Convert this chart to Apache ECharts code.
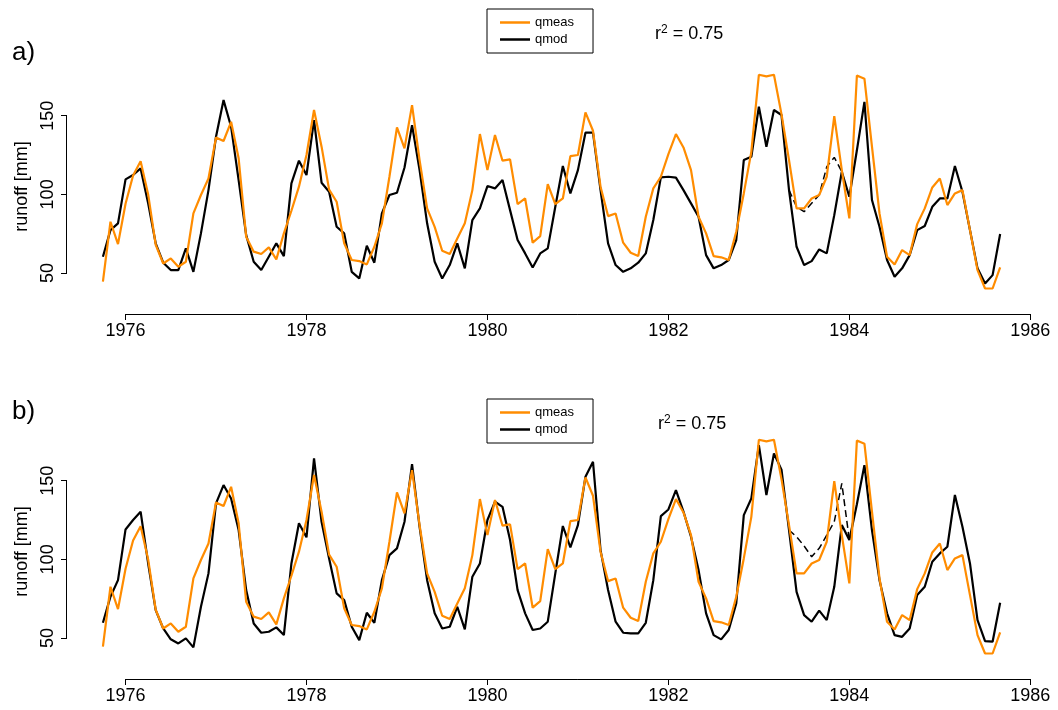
<!DOCTYPE html>
<html>
<head>
<meta charset="utf-8">
<script src="https://cdn.jsdelivr.net/npm/echarts@6/dist/echarts.min.js"></script>
<style>
  html, body { margin: 0; padding: 0; background: #fff; }
  #main { width: 1058px; height: 710px; }
</style>
</head>
<body>
<div id="main"></div>
<script>
// monthly values, Oct 1975 .. Sep 1985
const qmeas = [
  44.5, 82.6, 68.4, 94, 112, 121, 100, 68, 56.1, 59.3, 54, 57.2,
  87.9, 99.6, 110.1, 136.2, 133.9, 146.1, 122.9, 73.1, 63.6, 62.1, 66.3, 58.7,
  75.2, 89.6, 104.9, 125, 153.6, 130.3, 103, 95.3, 68.9, 58.3, 57.6, 55.5,
  66.7, 81.6, 111.2, 142.5, 129.2, 156.7, 121.8, 91.1, 79.4, 64.2, 62.1, 72,
  81.6, 102.7, 138.3, 115.4, 137.7, 121.4, 122.2, 93.8, 97.4, 69.3, 73.5, 106.5,
  93.8, 97.4, 124.3, 125, 152.1, 140.4, 104.9, 86.2, 87.9, 69.3, 62.9, 60.8,
  85.8, 103.8, 111.2, 125.6, 138.3, 129.8, 115.4, 85.8, 75.2, 60.8, 60, 58.3,
  76.3, 100.6, 127, 176, 175, 176, 151, 121.8, 91.1, 91.1, 97.4, 99.6,
  111.2, 149.7, 115.4, 84.7, 175.5, 173.5, 130.3, 87.9, 60.4, 55.5, 64.6, 61.4,
  81.1, 91.1, 104.4, 110.1, 93.2, 100.6, 102.7, 77.3, 51.9, 40.2, 40.2, 53.6
];
// model a)
const qmodA = [
  60.4, 77.3, 81.6, 109.5, 112.3, 116.5, 94.3, 68.9, 56.6, 51.9, 51.9, 65.7,
  50.8, 75.2, 102.7, 136.6, 159.9, 143, 109.1, 74.1, 57.2, 51.9, 60.4, 68.9,
  60.8, 107, 121.4, 112.3, 147.2, 107.4, 101.7, 79.4, 75.2, 50.8, 46.6, 67.4,
  56.6, 87.9, 99.6, 101, 117.1, 144, 115.4, 81.6, 57.2, 46.6, 55.1, 68.9,
  53, 83.7, 91.1, 105.3, 103.8, 109.1, 90, 71, 62.5, 53.6, 62.5, 65.7,
  92.1, 118, 100.6, 115.4, 139.2, 139.2, 102.7, 68.9, 55.1, 50.8, 53, 56.6,
  62.5, 83.7, 110.8, 111.2, 110.6, 102.7, 94.3, 85.8, 61.4, 53, 55.1, 58.3,
  71, 121.8, 123.9, 155.7, 130.3, 153.6, 150.4, 102.7, 66.7, 55.1, 57.6, 65,
  62.5, 86.8, 114.4, 98.5, 128, 158.8, 96.4, 79.4, 58.3, 47.7, 53, 61.4,
  77.3, 79.9, 92.1, 97.4, 97.4, 118, 101.7, 77.3, 53, 43.4, 48.7, 74.8
];
// dashed alternative a), months 91..98
const qmodAltA = [102.7, 92.1, 89, 94.3, 99.6, 117.5, 123.5, 114.4];
// model b)
const qmodB = [
  59.7, 76.3, 86.8, 119, 125, 130.3, 97.4, 67.8, 56.1, 49.2, 46.6, 49.8,
  44.1, 69.9, 91.1, 135.6, 147.2, 138.7, 118.6, 80.5, 59.3, 53.4, 54, 56.8,
  51.9, 97.4, 122.9, 114, 164.1, 123.9, 100.6, 78.4, 74.1, 57.2, 48.7, 66.1,
  59.7, 86.8, 102.7, 107, 123.9, 160.5, 120.7, 86.8, 65.7, 56.1, 57.2, 69.9,
  55.5, 89, 97.4, 125, 136.6, 133.4, 112.3, 80.5, 65.7, 55.1, 56.1, 60.4,
  91.1, 121.2, 107.6, 121.8, 152.5, 162, 105.9, 80.5, 60.4, 53.4, 53, 53,
  59.7, 86.8, 127.5, 131.7, 144, 130.3, 114.4, 93.2, 65.7, 51.9, 49.2, 55.1,
  72, 128.1, 138.7, 172.6, 140.9, 167.3, 157, 118.6, 79.4, 64.6, 60.4, 67.4,
  61.4, 82.6, 121.8, 112.3, 135, 159.9, 118.6, 86.8, 65.7, 51.9, 50.8, 56.1,
  77.3, 82.6, 98.5, 103.8, 108, 140.9, 120.7, 97.4, 61.4, 48.1, 47.7, 72.4
];
// dashed alternative b), months 91..99
const qmodAltB = [118.6, 114.4, 108.5, 101.7, 107, 115.4, 123.9, 148.3, 112.3];
const altStart = 91;

const xTicks = [1976, 1978, 1980, 1982, 1984, 1986];
const yTicks = [50, 100, 150];

// decimal-year date of every month
const months = [];
for (let i = 0; i < qmeas.length; i++) months.push(1975.75 + i / 12);

function pairs(vals, start) {
    start = start || 0;
    return vals.map(function (v, k) { return [months[start + k], v]; });
}

const font = 'Liberation Sans, Arial, sans-serif';
const xMin = 1975.353, xMax = 1986.063, yMin = 24, yMax = 186;
const orange = '#ff8c00';

function plain(v) { return String(v); }

function xAxisOf(g) {
    return {
        type: 'value', gridIndex: g, min: xMin, max: xMax,
        axisLine: { show: false },
        splitLine: { show: false },
        axisTick: { customValues: xTicks, length: 6, lineStyle: { color: '#000' } },
        axisLabel: { customValues: xTicks, formatter: plain, margin: 8, color: '#000', fontSize: 18, fontFamily: font }
    };
}
function yAxisOf(g) {
    return {
        type: 'value', gridIndex: g, min: yMin, max: yMax,
        name: 'runoff [mm]', nameLocation: 'middle', nameRotate: 90, nameGap: 36,
        nameTextStyle: { color: '#000', fontSize: 18, fontFamily: font },
        axisLine: { show: false },
        splitLine: { show: false },
        axisTick: { show: true, customValues: yTicks, length: 6, lineStyle: { color: '#000', width: 1 } },
        axisLabel: { customValues: yTicks, formatter: plain, rotate: 90, margin: 10, color: '#000', fontSize: 18, fontFamily: font }
    };
}
function panelSeries(g, qmod, alt) {
    return [
        {
            name: 'qmod', type: 'line', xAxisIndex: g, yAxisIndex: g, data: pairs(qmod),
            symbol: 'none', lineStyle: { color: '#000', width: 2.2 }, itemStyle: { color: '#000' }
        },
        {
            name: 'qmod alt', type: 'line', xAxisIndex: g, yAxisIndex: g, data: pairs(alt, altStart),
            symbol: 'none', lineStyle: { color: '#000', width: 1.5, type: [7, 4] }
        },
        {
            name: 'qmeas', type: 'line', xAxisIndex: g, yAxisIndex: g, data: pairs(qmeas),
            symbol: 'none', lineStyle: { color: orange, width: 2.2 }, itemStyle: { color: orange }
        }
    ];
}
function legendAt(top) {
    return {
        data: ['qmeas', 'qmod'], orient: 'vertical', left: 487, top: top,
        borderColor: '#000', borderWidth: 1, borderRadius: 0,
        padding: [7, 19, 7, 13], icon: 'rect', itemWidth: 30, itemHeight: 2.5, itemGap: 4,
        textStyle: { color: '#000', fontSize: 13, fontFamily: font }
    };
}
function r2At(left, top) {
    return {
        text: 'r{s|2} = 0.75', left: left, top: top,
        textStyle: {
            color: '#000', fontSize: 18, fontWeight: 'normal', fontFamily: font,
            rich: { s: { fontSize: 12, fontFamily: font, verticalAlign: 'top', padding: [0, 0, 8, 0] } }
        }
    };
}

const chart = echarts.init(document.getElementById('main'));
chart.setOption({
    animation: false,
    backgroundColor: '#fff',
    title: [
        { text: 'a)', left: 7, top: 35, textStyle: { color: '#000', fontSize: 26, fontWeight: 'normal', fontFamily: font } },
        { text: 'b)', left: 7, top: 394, textStyle: { color: '#000', fontSize: 26, fontWeight: 'normal', fontFamily: font } },
        r2At(650, 19),
        r2At(653, 409)
    ],
    legend: [legendAt(9), legendAt(399)],
    grid: [
        { left: 67, right: 22, top: 59, height: 255 },
        { left: 67, right: 22, top: 424, height: 255 }
    ],
    xAxis: [xAxisOf(0), xAxisOf(1)],
    yAxis: [yAxisOf(0), yAxisOf(1)],
    series: panelSeries(0, qmodA, qmodAltA).concat(panelSeries(1, qmodB, qmodAltB))
});

// axis lines only from first to last tick, as R draws them
const axisLines = [];
[0, 1].forEach(function (g) {
    const a = chart.convertToPixel({ gridIndex: g }, [xTicks[0], yMin]);
    const b = chart.convertToPixel({ gridIndex: g }, [xTicks[xTicks.length - 1], yMin]);
    const c = chart.convertToPixel({ gridIndex: g }, [xMin, yTicks[0]]);
    const d = chart.convertToPixel({ gridIndex: g }, [xMin, yTicks[yTicks.length - 1]]);
    const ya = Math.round(a[1]) + 0.5;
    const xc = Math.round(c[0]) - 0.5;
    axisLines.push(
        { type: 'line', z: 100, shape: { x1: a[0], y1: ya, x2: b[0], y2: ya }, style: { stroke: '#000', lineWidth: 1 }, silent: true },
        { type: 'line', z: 100, shape: { x1: xc, y1: c[1], x2: xc, y2: d[1] }, style: { stroke: '#000', lineWidth: 1 }, silent: true }
    );
});
chart.setOption({ graphic: axisLines });
</script>
</body>
</html>
